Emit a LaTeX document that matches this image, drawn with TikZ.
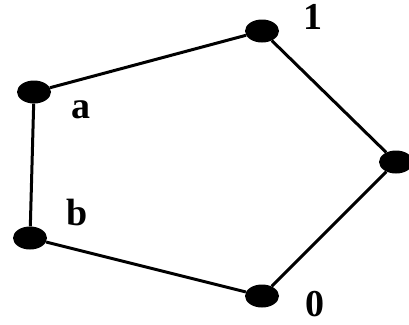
\documentclass[tikz,border=0pt]{standalone}
\usepackage{fontspec}
\setmainfont{Liberation Serif}
\usetikzlibrary{shapes.geometric}
\begin{document}
\begin{tikzpicture}[x=1pt,y=-1pt,
  vtx/.style={ellipse,fill=black,minimum width=34pt,minimum height=23pt,inner sep=0pt},
  lbl/.style={font=\fontsize{38}{38}\selectfont\bfseries,inner sep=0pt},
  edge/.style={line width=3pt}]
\useasboundingbox (0,0) rectangle (409,324);
\node[vtx] (one) at (262,31) {};
\node[vtx] (r) at (396,162) {};
\node[vtx] (zero) at (262,296) {};
\node[vtx] (b) at (30,238) {};
\node[vtx] (a) at (34,92) {};
\draw[edge] (a) -- (one) -- (r) -- (zero) -- (b) -- (a);
\node[lbl,anchor=base] (l1) at (313,29) {1};
\node[lbl,anchor=base] (la) at (81,118) {a};
\node[lbl,anchor=base] (lb) at (77,225) {b};
\node[lbl,anchor=base] (l0) at (315,316) {0};
\end{tikzpicture}
\end{document}
